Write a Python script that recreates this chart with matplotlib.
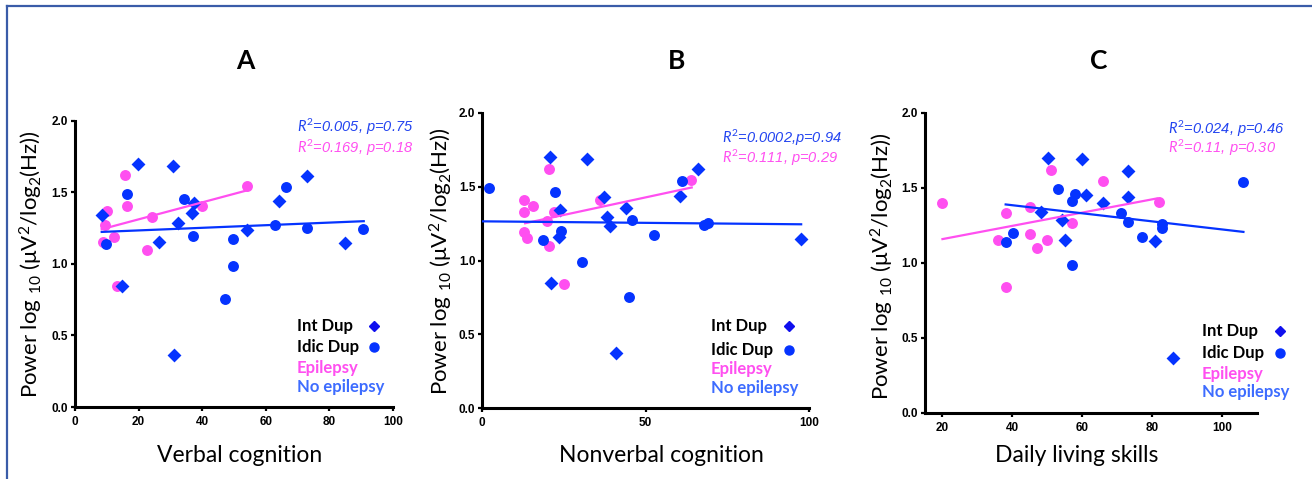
import numpy as np
import matplotlib
matplotlib.use('Agg')
from matplotlib import pyplot as plt
from matplotlib.lines import Line2D

plt.rcParams['font.family'] = ['Lato', 'DejaVu Sans']
plt.rcParams['mathtext.fontset'] = 'custom'
plt.rcParams['mathtext.rm'] = 'Lato'
plt.rcParams['mathtext.it'] = 'Lato:italic'
plt.rcParams['mathtext.bf'] = 'Lato:bold'

# ---- data ----
# A: verbal cognition
A_int_x = [8.4, 19.9, 30.9, 14.7, 26.5, 32.3, 36.9, 37.4, 54.0, 64.2, 72.8, 84.9, 31.1]
A_int_y = [1.342, 1.698, 1.686, 0.847, 1.153, 1.288, 1.353, 1.428, 1.237, 1.442, 1.616, 1.144, 0.365]
A_idic_x = [9.9, 16.3, 34.2, 37.1, 49.8, 49.8, 47.1, 62.8, 66.5, 73.1, 90.6]
A_idic_y = [1.140, 1.488, 1.456, 1.198, 1.172, 0.986, 0.753, 1.270, 1.540, 1.253, 1.242]
A_epi_x = [8.9, 9.4, 10.2, 12.4, 13.3, 15.6, 16.5, 22.7, 24.2, 40.0, 54.0]
A_epi_y = [1.151, 1.272, 1.372, 1.188, 0.844, 1.619, 1.405, 1.098, 1.326, 1.407, 1.547]
A_fit_epi = ([8.4, 53.9], [1.242, 1.512])
A_fit_noepi = ([8.4, 90.8], [1.223, 1.298])

# B: nonverbal cognition
B_int_x = [20.7, 31.9, 21.1, 23.8, 23.6, 37.3, 38.1, 39.1, 43.9, 40.9, 60.5, 66.1, 97.4]
B_int_y = [1.697, 1.688, 0.847, 1.342, 1.157, 1.427, 1.292, 1.231, 1.355, 0.371, 1.438, 1.618, 1.146]
B_idic_x = [2.1, 22.4, 18.5, 24.1, 30.6, 44.8, 45.9, 52.7, 61.1, 68.0, 69.2]
B_idic_y = [1.490, 1.461, 1.142, 1.200, 0.989, 0.753, 1.272, 1.175, 1.539, 1.243, 1.254]
B_epi_x = [12.8, 12.9, 15.5, 12.8, 13.8, 20.5, 19.7, 20.3, 21.8, 25.0, 36.0, 64.0]
B_epi_y = [1.407, 1.330, 1.371, 1.191, 1.153, 1.620, 1.265, 1.101, 1.326, 0.843, 1.407, 1.548]
B_fit_epi = ([13.1, 64.1], [1.252, 1.494])
B_fit_noepi = ([0.0, 97.6], [1.265, 1.245])

# C: daily living skills
C_int_x = [50.1, 60.0, 73.1, 48.1, 54.2, 55.0, 61.2, 66.1, 73.1, 81.0, 86.0]
C_int_y = [1.696, 1.687, 1.611, 1.340, 1.284, 1.151, 1.451, 1.400, 1.440, 1.142, 0.362]
C_idic_x = [38.1, 40.2, 53.1, 57.0, 58.0, 57.0, 71.0, 73.1, 77.1, 83.0, 83.0, 106.0]
C_idic_y = [1.140, 1.196, 1.487, 1.409, 1.456, 0.984, 1.327, 1.267, 1.171, 1.258, 1.233, 1.536]
C_epi_x = [20.0, 38.1, 35.9, 38.1, 45.1, 45.1, 47.0, 50.0, 51.0, 57.0, 66.1, 82.0]
C_epi_y = [1.400, 1.327, 1.151, 0.840, 1.373, 1.187, 1.098, 1.151, 1.618, 1.264, 1.544, 1.404]
C_fit_epi = ([20.0, 81.4], [1.156, 1.427])
C_fit_noepi = ([38.1, 106.2], [1.387, 1.204])

titles = ['A', 'B', 'C']
xlabels = ['Verbal cognition', 'Nonverbal cognition', 'Daily living skills']
stats_noepi = ['0.005, p=0.75', '0.0002,p=0.94', '0.024, p=0.46']
stats_epi = ['0.169, p=0.18', '0.111, p=0.29', '0.11, p=0.30']

BLUE = '#0533ff'
PINK = '#ff4ff0'
LIGHTBLUE = '#3d6cff'

panels = [
    dict(int=(A_int_x, A_int_y), idic=(A_idic_x, A_idic_y), epi=(A_epi_x, A_epi_y),
         fe=A_fit_epi, fn=A_fit_noepi, xlim=(0, 100), xt=[0, 20, 40, 60, 80, 100],
         rect=[75, 120.7, 393, 407], leg_x=0.697, leg_m=0.94, leg_y=[0.283, 0.208, 0.136, 0.07],
         st_x=0.698, st_y=[0.977, 0.904], title_x=245, xl_x=240, yl_x=31, yl_y=264),
    dict(int=(B_int_x, B_int_y), idic=(B_idic_x, B_idic_y), epi=(B_epi_x, B_epi_y),
         fe=B_fit_epi, fn=B_fit_noepi, xlim=(0, 100), xt=[0, 50, 100],
         rect=[482.3, 112.7, 809, 408.3], leg_x=0.699, leg_m=0.939, leg_y=[0.279, 0.197, 0.133, 0.068],
         st_x=0.735, st_y=[0.915, 0.846], title_x=677, xl_x=661, yl_x=441, yl_y=261),
    dict(int=(C_int_x, C_int_y), idic=(C_idic_x, C_idic_y), epi=(C_epi_x, C_epi_y),
         fe=C_fit_epi, fn=C_fit_noepi, xlim=(15, 110), xt=[20, 40, 60, 80, 100],
         rect=[925, 112.5, 1256.7, 412.5], leg_x=0.834, leg_m=1.07, leg_y=[0.272, 0.197, 0.13, 0.069],
         st_x=0.733, st_y=[0.947, 0.881], title_x=1099, xl_x=1077, yl_x=882, yl_y=266),
]

W, H = 1312, 479
fig = plt.figure(figsize=(W / 100, H / 100), dpi=100)

ylab = r'Power log $_{10}$ (μV$^{2}$/log$_{2}$(Hz))'
tickfont = dict(fontweight='bold', family='Liberation Sans', fontsize=8.5, color='black')
statfont = dict(fontsize=10.5, family='Liberation Sans', va='center', ha='left')

for i, p in enumerate(panels):
    x0, y0, x1, y1 = p['rect']
    ax = fig.add_axes([x0 / W, (H - y1) / H, (x1 - x0) / W, (y1 - y0) / H])

    ax.scatter(*p['epi'], s=62, color=PINK, marker='o', linewidths=0, zorder=3)
    ax.scatter(*p['idic'], s=62, color=BLUE, marker='o', linewidths=0, zorder=4)
    ax.scatter(*p['int'], s=50, color=BLUE, marker='D', linewidths=0, zorder=4)
    ax.plot(*p['fe'], color=PINK, lw=1.6, zorder=5)
    ax.plot(*p['fn'], color=BLUE, lw=1.6, zorder=5)

    ax.set_xlim(*p['xlim'])
    ax.set_ylim(0, 2.0)
    ax.set_xticks(p['xt'])
    ax.set_xticklabels([str(t) for t in p['xt']], **tickfont)
    ax.set_yticks([0, 0.5, 1.0, 1.5, 2.0])
    ax.set_yticklabels(['0.0', '0.5', '1.0', '1.5', '2.0'], **tickfont)
    for s in ['top', 'right']:
        ax.spines[s].set_visible(False)
    for s in ['left', 'bottom']:
        ax.spines[s].set_linewidth(2.2)
    ax.tick_params(axis='both', width=1.6, length=3, direction='out')
    ax.tick_params(axis='x', pad=3.5)
    ax.tick_params(axis='y', pad=2)

    # stats
    ax.text(p['st_x'], p['st_y'][0], r'$\mathit{R}^{2}$' + '=' + stats_noepi[i],
            transform=ax.transAxes, color='#2344f0', style='italic', **statfont)
    ax.text(p['st_x'], p['st_y'][1], r'$\mathit{R}^{2}$' + '=' + stats_epi[i],
            transform=ax.transAxes, color=PINK, style='italic', **statfont)

    # legend
    ly = p['leg_y']
    legfont = dict(transform=ax.transAxes, fontsize=12, fontweight='bold', va='center', ha='left')
    ax.text(p['leg_x'], ly[0], 'Int Dup', color='black', **legfont)
    ax.text(p['leg_x'], ly[1], 'Idic Dup', color='black', **legfont)
    ax.text(p['leg_x'], ly[2], 'Epilepsy', color=PINK, **legfont)
    ax.text(p['leg_x'], ly[3], 'No epilepsy', color=LIGHTBLUE, **legfont)
    ax.plot([p['leg_m']], [ly[0]], marker='D', ms=5, color='#1010ee', transform=ax.transAxes,
            clip_on=False, ls='none')
    ax.plot([p['leg_m']], [ly[1]], marker='o', ms=6.5, color=BLUE, transform=ax.transAxes,
            clip_on=False, ls='none')

    fig.text(p['title_x'] / W, 1 - 61 / H, titles[i], fontsize=19, fontweight='bold',
             ha='center', va='center')
    fig.text(p['xl_x'] / W, 1 - 455 / H, xlabels[i], fontsize=16.5, ha='center', va='center')
    fig.text(p['yl_x'] / W, 1 - p['yl_y'] / H, ylab, fontsize=16, rotation=90,
             ha='center', va='center')

# frame lines (top and left)
fig.add_artist(Line2D([7 / W, 1], [1 - 6 / H, 1 - 6 / H], color='#3a5ca8', lw=1.6))
fig.add_artist(Line2D([7 / W, 7 / W], [0, 1 - 6 / H], color='#3a5ca8', lw=1.6))

fig.savefig('out.png', dpi=100)
